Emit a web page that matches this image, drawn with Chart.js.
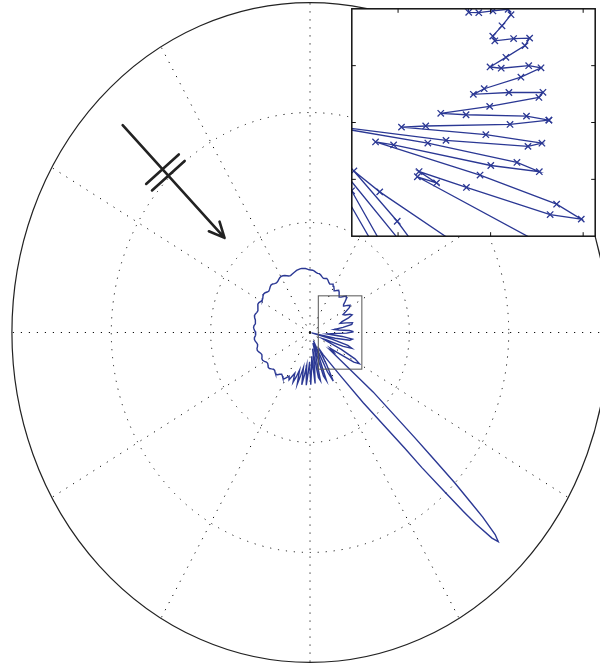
<!DOCTYPE html>
<html lang="en">
<head>
  <meta charset="UTF-8" />
  <title>Scattering pattern</title>
  <script src="https://cdn.jsdelivr.net/npm/chart.js"></script>
  <style>
    body {
      margin: 0;
      background: #fff;
      overflow: hidden;
    }

    .wrap {
      position: relative;
      width: 600px;
      height: 665px;
    }

    #mainChart {
      position: absolute;
      left: 0;
      top: 0;
    }

    /* zoomed window, top right */
    #zoomChart {
      position: absolute;
      left: 346px;
      top: 3px;
    }
  </style>
</head>
<body>
  <div class="wrap">
    <canvas id="mainChart" width="600" height="665"></canvas>
    <canvas id="zoomChart" width="255" height="239"></canvas>
  </div>

  <script>
    // scattered amplitude, one value every 1.8 deg starting at 0.9 deg (counter-clockwise)
    // null = inside the forward lobe, which has its own finer samples below
    const radius = [
      0.263, 0.239, 0.174, 0.147, 0.201, 0.256, 0.262, 0.226, 0.188, 0.202,
      0.246, 0.272, 0.261, 0.232, 0.222, 0.245, 0.273, 0.284, 0.269, 0.250,
      0.253, 0.272, 0.292, 0.296, 0.282, 0.269, 0.262, 0.270, 0.282, 0.288,
      0.280, 0.272, 0.278, 0.290, 0.298, 0.294, 0.290, 0.296, 0.306, 0.312,
      0.308, 0.306, 0.312, 0.320, 0.326, 0.326, 0.330, 0.336, 0.340, 0.341,
      0.342, 0.346, 0.350, 0.352, 0.353, 0.352, 0.350, 0.348, 0.344, 0.340,
      0.336, 0.332, 0.334, 0.340, 0.346, 0.350, 0.352, 0.350, 0.345, 0.340,
      0.338, 0.342, 0.348, 0.350, 0.346, 0.340, 0.336, 0.340, 0.347, 0.350,
      0.347, 0.341, 0.338, 0.342, 0.349, 0.351, 0.346, 0.340, 0.336, 0.339,
      0.345, 0.348, 0.344, 0.337, 0.333, 0.335, 0.340, 0.342, 0.338, 0.331,
      0.327, 0.330, 0.336, 0.338, 0.334, 0.327, 0.323, 0.326, 0.332, 0.333,
      0.327, 0.319, 0.315, 0.318, 0.324, 0.324, 0.317, 0.309, 0.306, 0.310,
      0.316, 0.314, 0.306, 0.298, 0.297, 0.303, 0.308, 0.303, 0.292, 0.285,
      0.290, 0.298, 0.296, 0.282, 0.270, 0.288, 0.262, 0.240, 0.290, 0.255,
      0.215, 0.292, 0.240, 0.195, 0.290, 0.230, 0.180, 0.288, 0.215, 0.160,
      0.285, 0.200, 0.130, 0.280, 0.200, 0.090, 0.250, 0.270, 0.120, 0.060,
      0.250, 0.280, 0.130, 0.050, 0.240, 0.300, 0.200, 0.100, 0.146, null,
      null, null, null, null, null, null, null, null, null, 0.177,
      0.150, 0.208, 0.310, 0.343, 0.307, 0.210, 0.083, 0.103, 0.214, 0.267,
      0.239, 0.137, 0.010, 0.155, 0.244, 0.258, 0.196, 0.104, 0.130, 0.221
    ];
    const sampleAngles = radius.map((_, i) => 0.9 + 1.8 * i);

    // forward lobe, around 315 deg
    const lobeAngles = [307.9, 310.0, 312.2, 312.5, 313.1, 313.5, 313.8, 314.4, 314.9,
                        315.4, 316.0, 316.3, 316.8, 317.3, 317.8, 319.6, 321.7];
    const lobeRadius = [0.30, 0.50, 0.85, 1.00, 1.20, 1.35, 1.45, 1.57, 1.61,
                        1.57, 1.45, 1.35, 1.20, 1.00, 0.85, 0.50, 0.154];

    const ringRadii = [0.6, 1.2];
    const outerRadius = 1.8;
    const spokeAngles = [0, 30, 60, 90, 120, 150, 180, 210, 240, 270, 300, 330];

    // zoom window limits and its tick marks
    const zoomX = [0.05, 0.313];
    const zoomY = [-0.2, 0.2];
    const zoomXTicks = [0.1, 0.2, 0.3];
    const zoomYTicks = [-0.1, 0, 0.1];

    // incident wave arrow (direction in deg, radii along it)
    const arrowAngle = 135;
    const arrowFrom = 1.6;
    const arrowTo = 0.73;
    const arrowMarks = [1.26, 1.21];

    const lineColor = '#2b3894';

    const curve = sampleAngles
      .map((a, i) => [a, radius[i]])
      .filter(p => p[1] !== null)
      .concat(lobeAngles.map((a, i) => [a, lobeRadius[i]]))
      .sort((p, q) => p[0] - q[0]);

    const points = curve.map(([a, r]) => ({
      x: r * Math.cos(a * Math.PI / 180),
      y: r * Math.sin(a * Math.PI / 180)
    }));
    points.push(points[0]);

    const polarGrid = {
      id: 'polarGrid',
      beforeDatasetsDraw(chart) {
        const { ctx, scales: { x, y } } = chart;
        const cx = x.getPixelForValue(0), cy = y.getPixelForValue(0);
        const rx = r => x.getPixelForValue(r) - cx;
        const ry = r => cy - y.getPixelForValue(r);
        ctx.save();
        ctx.strokeStyle = '#111';
        ctx.lineWidth = 1;
        ctx.setLineDash([1.2, 6.8]);
        ringRadii.forEach(r => {
          ctx.beginPath();
          ctx.ellipse(cx, cy, rx(r), ry(r), 0, 0, 2 * Math.PI);
          ctx.stroke();
        });
        spokeAngles.forEach(a => {
          const t = a * Math.PI / 180;
          ctx.beginPath();
          ctx.moveTo(cx, cy);
          ctx.lineTo(x.getPixelForValue(outerRadius * Math.cos(t)), y.getPixelForValue(outerRadius * Math.sin(t)));
          ctx.stroke();
        });
        ctx.setLineDash([]);
        ctx.strokeStyle = '#222';
        ctx.lineWidth = 1.2;
        ctx.beginPath();
        ctx.ellipse(cx, cy, rx(outerRadius), ry(outerRadius), 0, 0, 2 * Math.PI);
        ctx.stroke();
        ctx.restore();
      },
      afterDatasetsDraw(chart) {
        const { ctx, scales: { x, y } } = chart;
        ctx.save();
        // outline of the zoomed area
        ctx.strokeStyle = '#555';
        ctx.lineWidth = 1;
        const x0 = x.getPixelForValue(zoomX[0]), x1 = x.getPixelForValue(zoomX[1]);
        const y0 = y.getPixelForValue(zoomY[1]), y1 = y.getPixelForValue(zoomY[0]);
        ctx.strokeRect(x0, y0, x1 - x0, y1 - y0);

        // arrow
        const t = arrowAngle * Math.PI / 180;
        const at = r => [x.getPixelForValue(r * Math.cos(t)), y.getPixelForValue(r * Math.sin(t))];
        const [sx, sy] = at(arrowFrom);
        const [ex, ey] = at(arrowTo);
        const len = Math.hypot(ex - sx, ey - sy);
        const ux = (ex - sx) / len, uy = (ey - sy) / len;
        ctx.strokeStyle = '#222';
        ctx.lineWidth = 2.6;
        ctx.lineCap = 'round';
        ctx.beginPath();
        ctx.moveTo(sx, sy);
        ctx.lineTo(ex, ey);
        [25, -25].forEach(d => {
          const w = d * Math.PI / 180;
          const bx = -(ux * Math.cos(w) - uy * Math.sin(w));
          const by = -(ux * Math.sin(w) + uy * Math.cos(w));
          ctx.moveTo(ex, ey);
          ctx.lineTo(ex + 17 * bx, ey + 17 * by);
        });
        arrowMarks.forEach(r => {
          const [mx, my] = at(r);
          ctx.moveTo(mx - 22 * uy, my + 22 * ux);
          ctx.lineTo(mx + 22 * uy, my - 22 * ux);
        });
        ctx.stroke();
        ctx.restore();
      }
    };

    new Chart(document.getElementById('mainChart').getContext('2d'), {
      type: 'scatter',
      data: {
        datasets: [{
          data: points,
          showLine: true,
          borderColor: lineColor,
          borderWidth: 1.4,
          pointRadius: 0,
          tension: 0
        }]
      },
      options: {
        responsive: false,
        animation: false,
        layout: { padding: 0 },
        plugins: { legend: { display: false }, tooltip: { enabled: false } },
        scales: {
          x: { type: 'linear', display: false, min: -1.872, max: 1.751 },
          y: { type: 'linear', display: false, min: -1.814, max: 1.814 }
        }
      },
      plugins: [polarGrid]
    });

    const zoomFrame = {
      id: 'zoomFrame',
      beforeDraw(chart) {
        const { ctx, chartArea: a } = chart;
        ctx.save();
        ctx.fillStyle = '#fff';
        ctx.fillRect(a.left, a.top, a.right - a.left, a.bottom - a.top);
        ctx.restore();
      },
      afterDraw(chart) {
        const { ctx, chartArea: a, scales: { x, y } } = chart;
        ctx.save();
        ctx.strokeStyle = '#111';
        ctx.lineWidth = 1.5;
        ctx.strokeRect(a.left, a.top, a.right - a.left, a.bottom - a.top);
        ctx.lineWidth = 1;
        ctx.beginPath();
        zoomXTicks.forEach(v => {
          const px = x.getPixelForValue(v);
          ctx.moveTo(px, a.bottom); ctx.lineTo(px, a.bottom - 4);
          ctx.moveTo(px, a.top); ctx.lineTo(px, a.top + 4);
        });
        zoomYTicks.forEach(v => {
          const py = y.getPixelForValue(v);
          ctx.moveTo(a.left, py); ctx.lineTo(a.left + 4, py);
          ctx.moveTo(a.right, py); ctx.lineTo(a.right - 4, py);
        });
        ctx.stroke();
        ctx.restore();
      }
    };

    new Chart(document.getElementById('zoomChart').getContext('2d'), {
      type: 'scatter',
      data: {
        datasets: [{
          data: points,
          showLine: true,
          borderColor: lineColor,
          backgroundColor: lineColor,
          borderWidth: 1.3,
          pointStyle: 'crossRot',
          pointRadius: 4.5,
          pointBorderWidth: 1.3,
          tension: 0,
          clip: 0
        }]
      },
      options: {
        responsive: false,
        animation: false,
        layout: { padding: { left: 3, top: 3, right: 3, bottom: 3 } },
        plugins: { legend: { display: false }, tooltip: { enabled: false } },
        scales: {
          x: { type: 'linear', display: false, min: zoomX[0], max: zoomX[1] },
          y: { type: 'linear', display: false, min: zoomY[0], max: zoomY[1] }
        }
      },
      plugins: [zoomFrame]
    });
  </script>
</body>
</html>
